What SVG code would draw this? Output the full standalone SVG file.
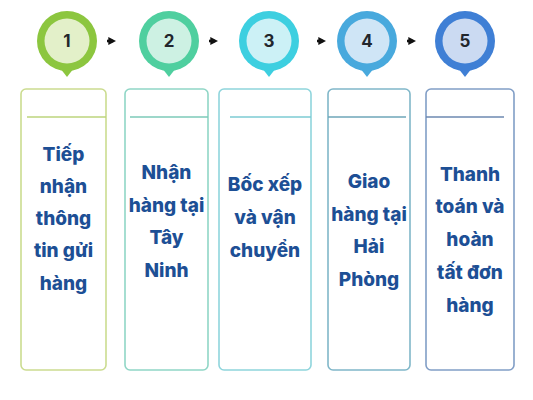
<svg xmlns="http://www.w3.org/2000/svg" width="533" height="400" viewBox="0 0 533 400">
<defs>
<style>
.num{font-family:Inter,"Liberation Sans",sans-serif;font-weight:700;font-size:17px;fill:#22262c;text-anchor:middle}
.lbl{font-family:Inter,"Liberation Sans",sans-serif;font-weight:800;font-size:19px;fill:#1d4f95;text-anchor:middle}
.box{fill:#ffffff;stroke-width:1.6}
.div{stroke-width:1.6}
.conn{stroke:#111111;stroke-width:2.6;fill:none}
</style>
<marker id="ah" viewBox="0 0 10 10" refX="6" refY="5" markerWidth="3" markerHeight="3" orient="auto" markerUnits="strokeWidth">
<path d="M0,0 L10,5 L0,10 Z" fill="#111111"/>
</marker>
</defs>
<rect width="533" height="400" fill="#ffffff"/>
<g id="connectors">
<line class="conn" x1="107" y1="41" x2="113" y2="41" marker-end="url(#ah)"/>
<line class="conn" x1="209" y1="41" x2="215" y2="41" marker-end="url(#ah)"/>
<line class="conn" x1="317" y1="41" x2="323" y2="41" marker-end="url(#ah)"/>
<line class="conn" x1="407" y1="41" x2="413" y2="41" marker-end="url(#ah)"/>
</g>
<g id="node1">
<path d="M60,68 L67,77 L74,68 Z" fill="#8cc63f"/>
<circle cx="67" cy="41" r="30" fill="#8cc63f"/>
<circle cx="67" cy="41" r="22.5" fill="#e3f0c9"/>
<text class="num" x="67" y="47">1</text>
<rect class="box" x="21" y="89" width="85" height="281" rx="5" stroke="#cbdc90"/>
<line class="div" x1="27" y1="117" x2="106" y2="117" stroke="#bcd47c"/>
<text class="lbl" x="63.5" y="160.5">Tiếp</text>
<text class="lbl" x="63.5" y="192.8">nhận</text>
<text class="lbl" x="63.5" y="225.1">thông</text>
<text class="lbl" x="63.5" y="257.4">tin gửi</text>
<text class="lbl" x="63.5" y="289.7">hàng</text>
</g>
<g id="node2">
<path d="M162,68 L169,77 L176,68 Z" fill="#4fcf9f"/>
<circle cx="169" cy="41" r="30" fill="#4fcf9f"/>
<circle cx="169" cy="41" r="22.5" fill="#cdf1e3"/>
<text class="num" x="169" y="47">2</text>
<rect class="box" x="125" y="89" width="83" height="281" rx="5" stroke="#90d6c6"/>
<line class="div" x1="130" y1="117" x2="208" y2="117" stroke="#7ccab8"/>
<text class="lbl" x="166.5" y="179">Nhận</text>
<text class="lbl" x="166.5" y="211.7">hàng tại</text>
<text class="lbl" x="166.5" y="244.4">Tây</text>
<text class="lbl" x="166.5" y="277.1">Ninh</text>
</g>
<g id="node3">
<path d="M262,68 L269,77 L276,68 Z" fill="#3dcfe0"/>
<circle cx="269" cy="41" r="30" fill="#3dcfe0"/>
<circle cx="269" cy="41" r="22.5" fill="#ccf1f6"/>
<text class="num" x="269" y="47">3</text>
<rect class="box" x="219" y="89" width="92" height="281" rx="5" stroke="#8fd5dc"/>
<line class="div" x1="230" y1="117" x2="311" y2="117" stroke="#7ccbd3"/>
<text class="lbl" x="265" y="191">Bốc xếp</text>
<text class="lbl" x="265" y="223.8">và vận</text>
<text class="lbl" x="265" y="256.6">chuyển</text>
</g>
<g id="node4">
<path d="M360,68 L367,77 L374,68 Z" fill="#48a9dd"/>
<circle cx="367" cy="41" r="30" fill="#48a9dd"/>
<circle cx="367" cy="41" r="22.5" fill="#cfe5f6"/>
<text class="num" x="367" y="47">4</text>
<rect class="box" x="328" y="89" width="82" height="281" rx="5" stroke="#80b7c9"/>
<line class="div" x1="328" y1="117" x2="406" y2="117" stroke="#6ea6b8"/>
<text class="lbl" x="369" y="188">Giao</text>
<text class="lbl" x="369" y="220.5">hàng tại</text>
<text class="lbl" x="369" y="253">Hải</text>
<text class="lbl" x="369" y="285.5">Phòng</text>
</g>
<g id="node5">
<path d="M458,68 L465,77 L472,68 Z" fill="#3f7fd5"/>
<circle cx="465" cy="41" r="30" fill="#3f7fd5"/>
<circle cx="465" cy="41" r="22.5" fill="#cbdaf2"/>
<text class="num" x="465" y="47">5</text>
<rect class="box" x="426" y="89" width="88" height="281" rx="5" stroke="#819ec6"/>
<line class="div" x1="426" y1="117" x2="504" y2="117" stroke="#6c89b0"/>
<text class="lbl" x="470" y="180.5">Thanh</text>
<text class="lbl" x="470" y="213.3">toán và</text>
<text class="lbl" x="470" y="246.1">hoàn</text>
<text class="lbl" x="470" y="278.9">tất đơn</text>
<text class="lbl" x="470" y="311.7">hàng</text>
</g>
</svg>
